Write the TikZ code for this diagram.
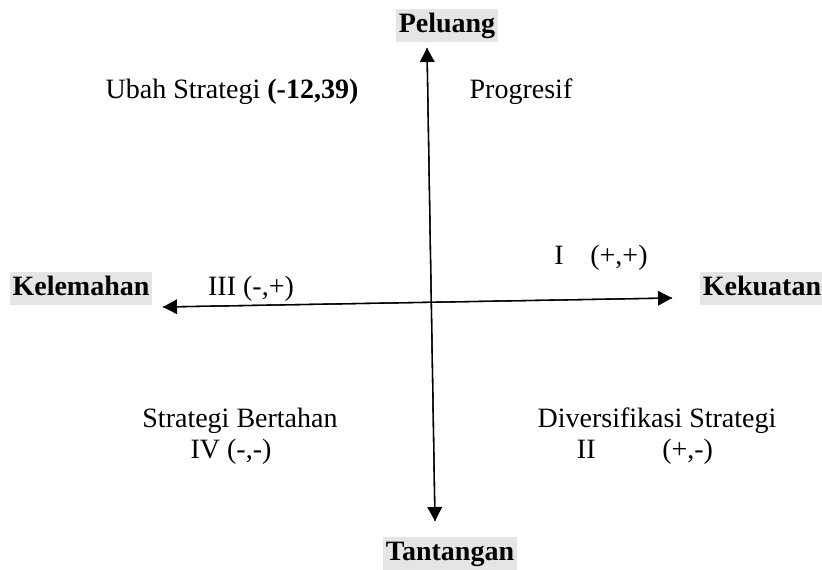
\documentclass[tikz,border=0pt]{standalone}
\usepackage{fontspec}
\setmainfont{Liberation Serif}
\usetikzlibrary{arrows.meta}

\begin{document}
\begin{tikzpicture}[
  x=0.75pt, y=-0.75pt,
  axis/.style={-{Triangle[length=10.5pt, width=11pt]}, line width=1pt},
  pole/.style={fill=black!10, anchor=base, inner xsep=2pt, inner ysep=2pt,
               text height=16pt, text depth=5pt,
               font=\fontsize{21}{25}\selectfont\bfseries},
  quad/.style={anchor=base, inner sep=0pt, font=\fontsize{21}{25}\selectfont},
]
\useasboundingbox (0,0) rectangle (822,570);

% Axis ends
\coordinate (top) at (427,48);
\coordinate (bottom) at (435,521);
\coordinate (left) at (163,307);
\coordinate (right) at (672,298);

% Poles
\node[pole] (peluang) at (447,33) {Peluang};
\node[pole] (tantangan) at (450,561) {Tantangan};
\node[pole] (kelemahan) at (81,296) {Kelemahan};
\node[pole] (kekuatan) at (762,296) {Kekuatan};

% Quadrants
\node[quad] (ubah) at (232,99) {Ubah Strategi \textbf{(-12,39)}};
\node[quad] (progresif) at (521,99) {Progresif};
\node[quad] (kuadI) at (601,265) {I\hspace{20pt}(+,+)};
\node[quad] (kuadIII) at (251,296) {III (-,+)};
\node[quad] (bertahan) at (240,428) {Strategi Bertahan};
\node[quad] (kuadIV) at (231,459) {IV (-,-)};
\node[quad] (diversifikasi) at (657,428) {Diversifikasi Strategi};
\node[quad] (kuadII) at (645,459) {II\hspace{50pt}(+,-)};

% Axes
\draw[axis] (bottom) -- (top);
\draw[axis] (top) -- (bottom);
\draw[axis] (right) -- (left);
\draw[axis] (left) -- (right);

\end{tikzpicture}
\end{document}
